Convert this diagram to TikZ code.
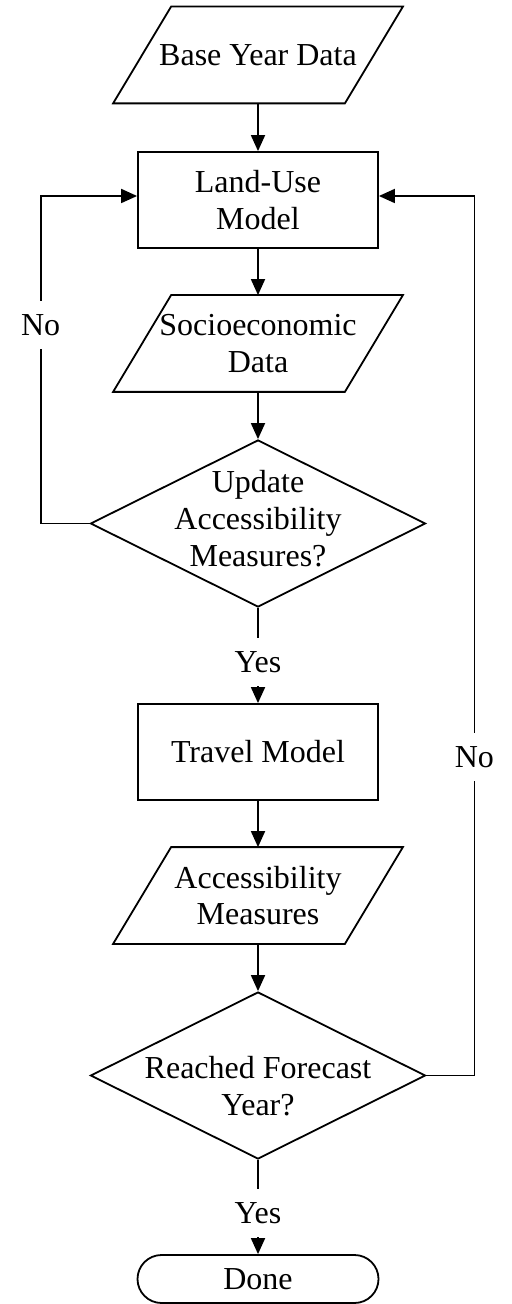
\documentclass[tikz,border=0pt]{standalone}
\usepackage{fontspec}
\setmainfont{Liberation Serif}
\usetikzlibrary{shapes.geometric,arrows.meta}

\tikzset{
  process/.style={draw,rectangle,minimum width=120pt,minimum height=48pt,inner sep=0pt,align=center},
  data/.style={rectangle,minimum width=115pt,minimum height=47.5pt,inner sep=0pt,align=center,
    append after command={\pgfextra{\draw ([xshift=14.5pt]\tikzlastnode.north west)
      -- ([xshift=14.5pt]\tikzlastnode.north east) -- ([xshift=-14.5pt]\tikzlastnode.south east)
      -- ([xshift=-14.5pt]\tikzlastnode.south west) -- cycle;}}},
  decision/.style={draw,diamond,minimum width=167.5pt,minimum height=83.5pt,inner sep=0pt},
  terminal/.style={draw,rectangle,rounded corners=12pt,minimum width=120.5pt,minimum height=24pt,inner sep=0pt},
  flow/.style={-{Triangle[length=8pt,width=7pt]}},
  answer/.style={fill=white,inner xsep=2pt,inner ysep=6.5pt}
}

\begin{document}
\begin{tikzpicture}[x=0.5pt,y=-0.5pt,line width=0.9pt,font=\fontsize{16}{18.4}\selectfont]

            \useasboundingbox (0,0) rectangle (512,1304);

            \node[data] (base) at (258,55) {Base Year Data};
            \node[process] (landuse) at (258,200) {Land-Use\\Model};
            \node[data] (socio) at (258,343.5) {Socioeconomic\\Data};
            \node[decision,label={[align=center,yshift=2.5pt]center:Update\\Accessibility\\Measures?}] (update) at (258,523.5) {};
            \node[process] (travel) at (258,752) {Travel Model};
            \node[data] (access) at (258,895.5) {Accessibility\\Measures};
            \node[decision,label={[align=center,yshift=-5.5pt]center:Reached Forecast\\Year?}] (reached) at (258,1075.5) {};
            \node[terminal] (done) at (258,1279) {Done};

            \draw[flow] (base) -- (landuse);
            \draw[flow] (landuse) -- (socio);
            \draw[flow] (socio) -- (update);
            \draw[flow] (travel) -- (access);
            \draw[flow] (access) -- (reached);

            % yes branches
            \draw[flow] (update.south) -- (travel.north) node[answer,pos=0.567] {Yes};
            \draw[flow] (reached.south) -- (done.north) node[answer,pos=0.5625] {Yes};

            % loops back to the land-use model
            \draw[flow] (update.west) -- ++(-49,0) |- ([yshift=2pt]landuse.west) node[answer,pos=0.303] {No};
            \draw[flow] (reached.east) -- ++(48,0) |- ([yshift=2pt]landuse.east) node[answer,pos=0.181] {No};

\end{tikzpicture}
\end{document}
